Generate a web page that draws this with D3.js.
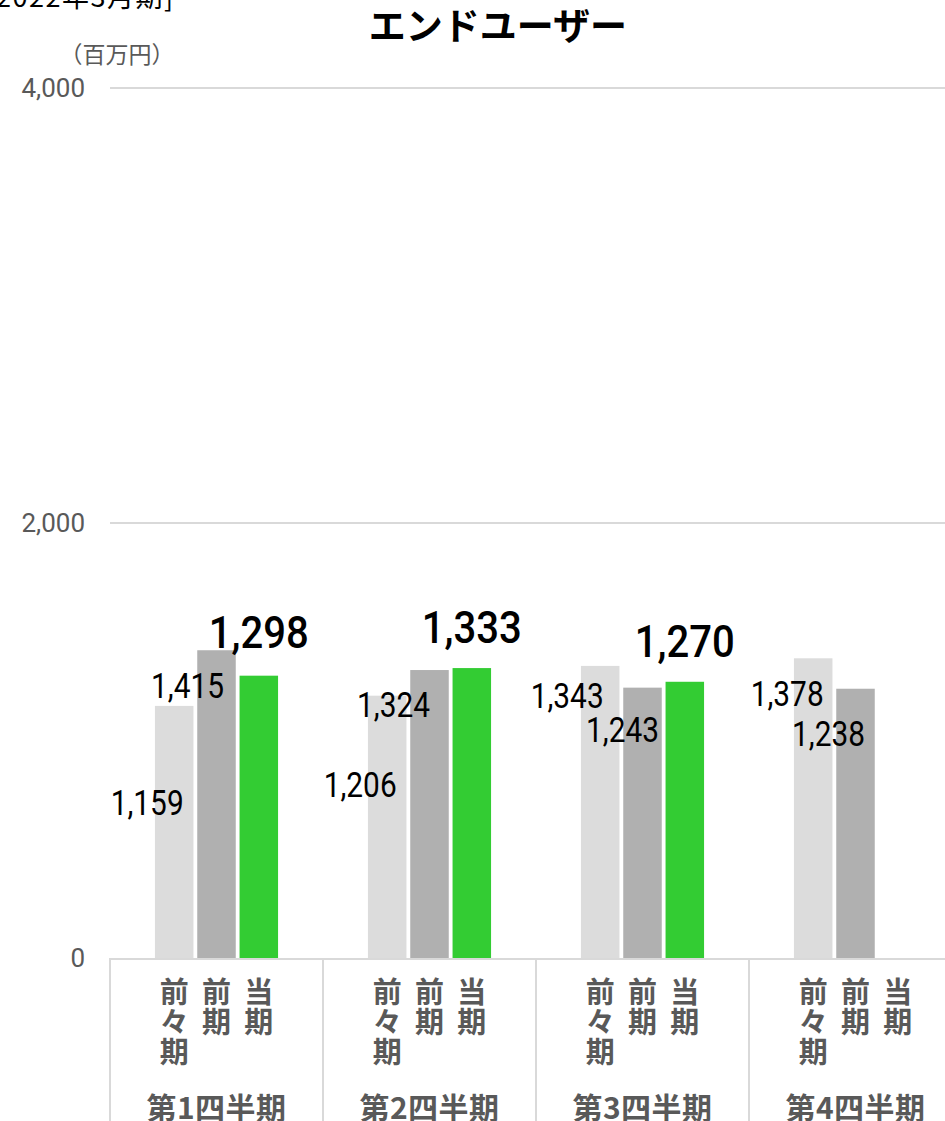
<!DOCTYPE html>
<html><head><meta charset="utf-8">
<script src="https://cdn.jsdelivr.net/npm/d3@7"></script>
<style>
html,body{margin:0;padding:0;background:#fff;overflow:hidden}
svg{display:block}
</style></head>
<body>
<script>
// ---- data ----
const quarters = ["第1四半期","第2四半期","第3四半期","第4四半期"];
const seriesNames = ["前々期","前期","当期"];
const prevPrev = [1159, 1206, 1343, 1378];
const prev = [1415, 1324, 1243, 1238];
const current = [1298, 1333, 1270, null];
const yTicks = [0, 2000, 4000];
const titleText = "エンドユーザー";
const periodText = "2022年3月期]";
const unitText = "（百万円）";

// label nudges (px) relative to bar center / bar top, mimicking the original layout
const labelNudge = {
  "前々期": [[-27, 96], [-27, 89], [-33, 30], [-26, 35]],
  "前期":   [[-29, 35], [-36, 34], [-20, 42], [-27, 45]],
  "当期":   [[0, -44], [0, -41], [0, -41], [0, -41]]
};

const W = 945, H = 1121;
const svg = d3.select("body").append("svg").attr("width", W).attr("height", H);

const jp = "'Noto Sans CJK JP','Noto Sans',sans-serif";
const num = "Roboto,'Noto Sans',sans-serif";
const seriesValues = [prevPrev, prev, current];
const colors = {"前々期":"#dcdcdc","前期":"#b0b0b0","当期":"#33cc33"};

const x0 = d3.scaleBand().domain(quarters).range([110, 962]);
const bw = x0.bandwidth();
const x1 = d3.scaleBand().domain(seriesNames).range([bw*0.211, bw*0.789]).paddingInner(0.09);
const y = d3.scaleLinear().domain([0, 4000]).range([958, 88]);

// gridlines
svg.append("g").selectAll("line").data(yTicks.filter(d => d > 0)).join("line")
  .attr("x1", 110).attr("x2", W).attr("y1", d => y(d)).attr("y2", d => y(d))
  .attr("stroke", "#d9d9d9").attr("stroke-width", 2);

// y tick labels
svg.append("g").selectAll("text").data(yTicks).join("text")
  .attr("x", 85).attr("y", d => y(d)).attr("dy", "0.36em")
  .attr("text-anchor", "end").attr("font-family", num).attr("font-size", 26)
  .attr("fill", "#595959").text(d => d3.format(",")(d));

// unit
svg.append("text").attr("x", 117).attr("y", 63).attr("text-anchor", "middle")
  .attr("font-family", jp).attr("font-size", 23).attr("fill", "#595959").text(unitText);

// title
svg.append("text").attr("x", 498).attr("y", 40).attr("text-anchor", "middle")
  .attr("font-family", jp).attr("font-size", 37).attr("font-weight", 700)
  .attr("fill", "#000").text(titleText);

// period (cut off at the top)
svg.append("text").attr("x", -4).attr("y", 7).attr("text-anchor", "start")
  .attr("font-family", jp).attr("font-size", 27).attr("letter-spacing", 1.5)
  .attr("fill", "#000").text(periodText);

// bars
const barData = [];
quarters.forEach((q, qi) => {
  seriesNames.forEach((s, si) => {
    const v = seriesValues[si][qi];
    if (v != null) barData.push({q, s, v, qi, si});
  });
});

svg.append("g").selectAll("rect").data(barData).join("rect")
  .attr("x", d => x0(d.q) + x1(d.s))
  .attr("width", x1.bandwidth())
  .attr("y", d => y(d.v))
  .attr("height", d => y(0) - y(d.v))
  .attr("fill", d => colors[d.s]);

// bottom axis line & separators
svg.append("line").attr("x1", 110).attr("x2", W).attr("y1", y(0)+1).attr("y2", y(0)+1)
  .attr("stroke", "#d9d9d9").attr("stroke-width", 2);
svg.append("g").selectAll("line").data(quarters).join("line")
  .attr("x1", d => x0(d)).attr("x2", d => x0(d))
  .attr("y1", y(0)).attr("y2", H)
  .attr("stroke", "#d9d9d9").attr("stroke-width", 2);

// data labels
svg.append("g").selectAll("text").data(barData).join("text")
  .attr("x", d => x0(d.q) + x1(d.s) + x1.bandwidth()/2 + labelNudge[d.s][d.qi][0])
  .attr("y", d => y(d.v) + labelNudge[d.s][d.qi][1])
  .attr("dy", "0.36em")
  .attr("text-anchor", "middle")
  .attr("font-family", num)
  .attr("font-size", d => d.s === "当期" ? 44 : 35)
  .attr("font-weight", d => d.s === "当期" ? 500 : 400)
  .attr("textLength", d => d.s === "当期" ? 100 : 73)
  .attr("lengthAdjust", "spacingAndGlyphs")
  .attr("fill", "#000")
  .text(d => d3.format(",")(d.v));

// series labels (vertical text)
const subG = svg.append("g");
quarters.forEach(q => {
  seriesNames.forEach(s => {
    const cx = x0(q) + x1(s) + x1.bandwidth()/2;
    Array.from(s).forEach((ch, i) => {
      subG.append("text").attr("x", cx).attr("y", 1003 + i*30)
        .attr("text-anchor", "middle").attr("font-family", jp)
        .attr("font-size", 29).attr("font-weight", 700).attr("fill", "#595959")
        .text(ch);
    });
  });
});

// quarter labels
svg.append("g").selectAll("text").data(quarters).join("text")
  .attr("x", d => x0(d) + bw/2).attr("y", 1119)
  .attr("text-anchor", "middle").attr("font-family", jp)
  .attr("font-size", 30).attr("font-weight", 700).attr("fill", "#595959")
  .attr("letter-spacing", 0.5)
  .text(d => d);
</script>
</body></html>
